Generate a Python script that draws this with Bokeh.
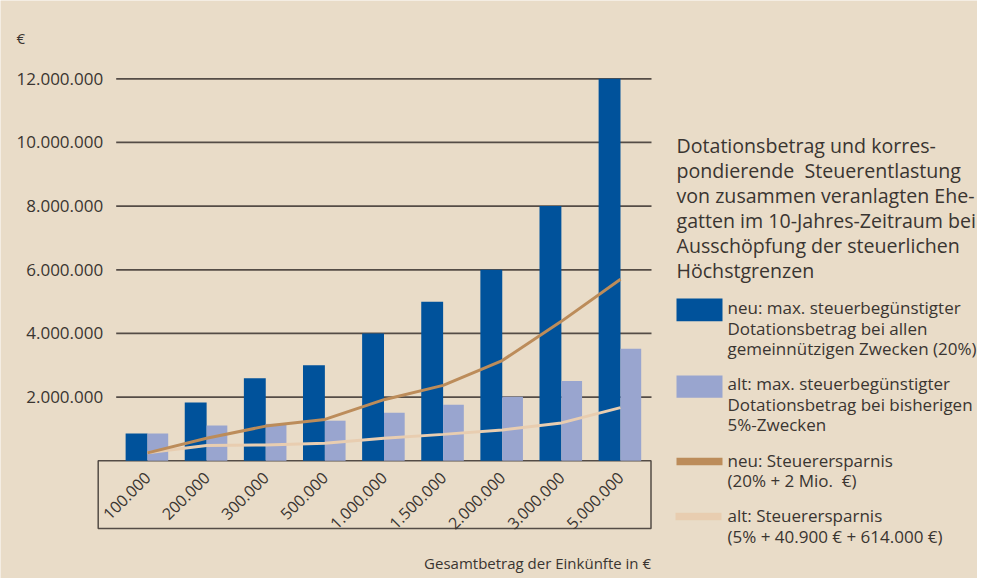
import numpy as np
from bokeh.plotting import figure
from bokeh.models import Range1d, FixedTicker
from bokeh.embed import file_html
from bokeh.resources import INLINE
from bokeh.core.properties import value

# ---------------- data ----------------
einkuenfte = ["100.000", "200.000", "300.000", "500.000", "1.000.000",
              "1.500.000", "2.000.000", "3.000.000", "5.000.000"]
neu_dotation = [860000, 1830000, 2590000, 3000000, 4000000,
                5000000, 6000000, 8000000, 12000000]
alt_dotation = [860000, 1110000, 1160000, 1260000, 1510000,
                1760000, 2010000, 2510000, 3520000]
neu_ersparnis = [250000, 710000, 1090000, 1300000, 1920000,
                 2370000, 3150000, 4380000, 5700000]
alt_ersparnis = [250000, 480000, 500000, 550000, 710000,
                 830000, 970000, 1190000, 1670000]
y_ticks = [2000000, 4000000, 6000000, 8000000, 10000000, 12000000]

title_lines = ["Dotationsbetrag und korres-",
               "pondierende\u00a0 Steuerentlastung",
               "von zusammen veranlagten Ehe-",
               "gatten im 10-Jahres-Zeitraum bei",
               "Ausschöpfung der steuerlichen",
               "Höchstgrenzen"]
legend_neu_dot = ["neu: max. steuerbegünstigter",
                  "Dotationsbetrag bei allen",
                  "gemeinnützigen Zwecken (20%)"]
legend_alt_dot = ["alt: max. steuerbegünstigter",
                  "Dotationsbetrag bei bisherigen",
                  "5%-Zwecken"]
legend_neu_ers = ["neu: Steuerersparnis",
                  "(20% + 2 Mio.\u00a0 €)"]
legend_alt_ers = ["alt: Steuerersparnis",
                  "(5% + 40.900 € + 614.000 €)"]
x_title = "Gesamtbetrag der Einkünfte in €"
y_unit = "€"

# ---------------- style ----------------
BG = "#E9DCC8"
DARK = "#00529B"
LIGHT = "#99A5CF"
BROWN = "#BC8C5A"
BEIGE = "#E8CDB0"
GRID = "#544c46"
TEXT = "#3a3531"
FONT = "Open Sans"

# layout geometry (pixels of the picture)
W, H = 977, 578
GX0, GDX = 147.0, 59.125      # first group centre, group spacing
ZERO_Y, PX_PER_2M = 460.3, 63.67


def xd(px):
    return (px - GX0) / GDX


def yd(py):
    return (ZERO_Y - py) * 2000000 / PX_PER_2M


idx = np.arange(len(einkuenfte))

p = figure(width=W, height=H, title=None,
           x_range=Range1d(xd(0), xd(W)), y_range=Range1d(yd(H), yd(0)),
           toolbar_location=None, output_backend="svg", min_border=0)
p.background_fill_color = BG
p.border_fill_color = BG
p.outline_line_color = None
p.grid.visible = False

# horizontal grid lines
p.segment(x0=xd(115.7), x1=xd(651), y0=y_ticks, y1=y_ticks,
          line_color=GRID, line_width=1.7)

# box around the category axis
p.quad(left=xd(97.7), right=xd(650.5), top=0, bottom=yd(528),
       fill_color=None, line_color=GRID, line_width=1.5)

# bars
p.vbar(x=idx - 0.185, width=0.37, top=neu_dotation, bottom=0,
       fill_color=DARK, line_color=None)
p.vbar(x=idx + 0.175, width=0.35, top=alt_dotation, bottom=0,
       fill_color=LIGHT, line_color=None)

# lines
p.line(x=idx, y=alt_ersparnis, line_color=BEIGE, line_width=3)
p.line(x=idx, y=neu_ersparnis, line_color=BROWN, line_width=3)

# y axis
ya = p.yaxis[0]
ya.fixed_location = xd(115.7)
ya.ticker = FixedTicker(ticks=y_ticks)
ya.major_label_overrides = {t: f"{t:,}".replace(",", ".") for t in y_ticks}
ya.axis_line_color = None
ya.major_tick_line_color = None
ya.minor_tick_line_color = None
ya.major_label_standoff = 7
ya.major_label_text_font = FONT
ya.major_label_text_font_size = "17px"
ya.major_label_text_color = TEXT

# x axis
xa = p.xaxis[0]
xa.fixed_location = 0
xa.ticker = FixedTicker(ticks=list(idx))
xa.major_label_overrides = {int(i): lab for i, lab in zip(idx, einkuenfte)}
xa.major_label_orientation = np.pi / 4
xa.axis_line_color = None
xa.major_tick_line_color = None
xa.minor_tick_line_color = None
xa.major_label_standoff = 8
xa.major_label_text_font = FONT
xa.major_label_text_font_size = "16px"
xa.major_label_text_color = TEXT

# unit and axis title
p.text(x=[xd(16)], y=[yd(37)], text=[y_unit], text_font=value(FONT),
       text_font_size="15px", text_color=TEXT, text_baseline="middle",
       text_align="left")
p.text(x=[xd(650.5)], y=[yd(562)], text=[x_title], text_font=value(FONT),
       text_font_size="15px", text_color=TEXT, text_baseline="middle",
       text_align="right")


# ---------------- legend block (right) ----------------
def lines_at(lines, px, py0, dpy, size):
    p.text(x=[xd(px)] * len(lines),
           y=[yd(py0 + k * dpy) for k in range(len(lines))],
           text=lines, text_font=value(FONT), text_font_size=size,
           text_color=TEXT, text_baseline="middle", text_align="left")


lines_at(title_lines, 676, 145, 25, "19.6px")

p.quad(left=xd(676), right=xd(722), top=yd(298), bottom=yd(320.7),
       fill_color=DARK, line_color=None)
lines_at(legend_neu_dot, 727, 307.3, 20.3, "17px")

p.quad(left=xd(676), right=xd(722), top=yd(375), bottom=yd(397.3),
       fill_color=LIGHT, line_color=None)
lines_at(legend_alt_dot, 727, 383.3, 20.3, "17px")

p.segment(x0=xd(676), x1=xd(722), y0=yd(461), y1=yd(461),
          line_color=BROWN, line_width=7.5)
lines_at(legend_neu_ers, 727, 460, 20.3, "17px")

p.segment(x0=xd(675), x1=xd(721), y0=yd(516), y1=yd(516),
          line_color=BEIGE, line_width=7.5)
lines_at(legend_alt_ers, 727, 515, 20.5, "17px")

open("out.html", "w").write(file_html(p, INLINE))
